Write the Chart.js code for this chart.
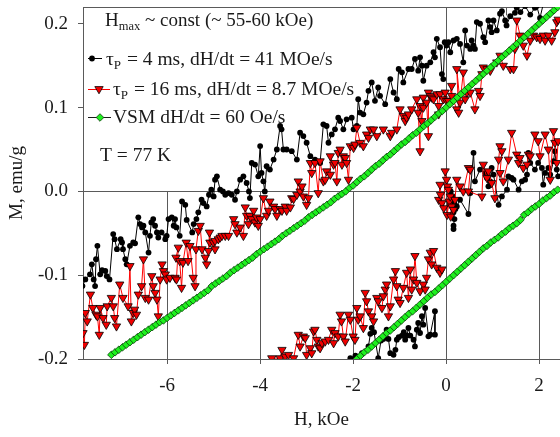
<!DOCTYPE html>
<html>
<head>
<meta charset="utf-8">
<script src="https://cdn.jsdelivr.net/npm/chart.js@4.4.0/dist/chart.umd.min.js"></script>
<style>
  body { margin: 0; background: #fff; }
  #grafica { display: block; }
</style>
</head>
<body>
<canvas id="grafica" width="560" height="437"></canvas>
<script>
// tick labels
const xTicks = [-6, -4, -2, 0, 2];
const yTicks = [-0.2, -0.1, 0.0, 0.1, 0.2];

// VSM, dH/dt = 60 Oe/s - descending branch (upper)
const vsmDescH = [
  -7.20,-7.12,-7.04,-6.96,-6.88,-6.80,-6.72,-6.64,-6.56,-6.48,
  -6.40,-6.32,-6.24,-6.16,-6.08,-6.00,-5.92,-5.84,-5.76,-5.68,
  -5.60,-5.52,-5.44,-5.36,-5.28,-5.20,-5.12,-5.04,-4.96,-4.88,
  -4.80,-4.72,-4.64,-4.56,-4.48,-4.40,-4.32,-4.24,-4.16,-4.08,
  -4.00,-3.92,-3.84,-3.76,-3.68,-3.60,-3.52,-3.44,-3.36,-3.28,
  -3.20,-3.12,-3.04,-2.96,-2.88,-2.80,-2.72,-2.64,-2.56,-2.48,
  -2.40,-2.32,-2.24,-2.16,-2.08,-2.00,-1.92,-1.84,-1.76,-1.68,
  -1.60,-1.52,-1.44,-1.36,-1.28,-1.20,-1.12,-1.04,-0.96,-0.88,
  -0.80,-0.72,-0.64,-0.56,-0.48,-0.40,-0.32,-0.24,-0.16,-0.08,
  0.00,0.08,0.16,0.24,0.32,0.40,0.48,0.56,0.64,0.72,
  0.80,0.88,0.96,1.04,1.12,1.20,1.28,1.36,1.44,1.52,
  1.60,1.68,1.76,1.84,1.92,2.00,2.08,2.16,2.24,2.32,
  2.40
];
const vsmDescM = [
  -0.195,-0.192,-0.189,-0.186,-0.183,-0.180,-0.177,-0.174,-0.171,-0.168,
  -0.165,-0.162,-0.159,-0.156,-0.154,-0.151,-0.148,-0.145,-0.142,-0.139,
  -0.136,-0.133,-0.130,-0.127,-0.124,-0.121,-0.118,-0.113,-0.110,-0.107,
  -0.104,-0.101,-0.097,-0.094,-0.091,-0.088,-0.085,-0.082,-0.079,-0.075,
  -0.072,-0.069,-0.066,-0.063,-0.060,-0.057,-0.053,-0.050,-0.047,-0.044,
  -0.041,-0.038,-0.035,-0.031,-0.028,-0.025,-0.022,-0.019,-0.016,-0.013,
  -0.009,-0.006,-0.003,0.000,0.004,0.007,0.011,0.015,0.018,0.022,
  0.026,0.030,0.033,0.037,0.041,0.044,0.048,0.052,0.056,0.059,
  0.063,0.067,0.070,0.074,0.078,0.081,0.085,0.089,0.093,0.096,
  0.100,0.104,0.108,0.112,0.116,0.120,0.124,0.128,0.132,0.136,
  0.140,0.144,0.148,0.152,0.156,0.160,0.164,0.168,0.172,0.176,
  0.180,0.184,0.188,0.192,0.196,0.200,0.204,0.208,0.212,0.216,
  0.220
];

// VSM - ascending branch (lower)
const vsmAscH = [
  -1.92,-1.84,-1.76,-1.68,-1.60,-1.52,-1.44,-1.36,-1.28,-1.20,
  -1.12,-1.04,-0.96,-0.88,-0.80,-0.72,-0.64,-0.56,-0.48,-0.40,
  -0.32,-0.24,-0.16,-0.08,0.00,0.08,0.16,0.24,0.32,0.40,
  0.48,0.56,0.64,0.72,0.80,0.88,0.96,1.04,1.12,1.20,
  1.28,1.36,1.44,1.52,1.60,1.68,1.76,1.84,1.92,2.00,
  2.08,2.16,2.24,2.32,2.40
];
const vsmAscM = [
  -0.200,-0.196,-0.192,-0.189,-0.185,-0.181,-0.177,-0.173,-0.169,-0.166,
  -0.162,-0.158,-0.154,-0.150,-0.146,-0.143,-0.139,-0.135,-0.131,-0.127,
  -0.123,-0.120,-0.116,-0.112,-0.108,-0.104,-0.100,-0.096,-0.092,-0.088,
  -0.084,-0.080,-0.076,-0.072,-0.068,-0.065,-0.061,-0.058,-0.055,-0.051,
  -0.048,-0.044,-0.041,-0.038,-0.034,-0.028,-0.025,-0.021,-0.018,-0.015,
  -0.011,-0.008,-0.005,-0.001,0.002
];

// tau_P = 4 ms - descending branch
const p4DescH = [
  -7.82,-7.76,-7.66,-7.62,-7.58,-7.55,-7.53,-7.50,-7.44,-7.40,
  -7.33,-7.30,-7.24,-7.16,-7.13,-7.08,-7.00,-6.97,-6.95,-6.90,
  -6.87,-6.80,-6.73,-6.69,-6.62,-6.58,-6.54,-6.51,-6.47,-6.40,
  -6.37,-6.34,-6.30,-6.26,-6.22,-6.19,-6.12,-6.04,-6.01,-5.97,
  -5.90,-5.86,-5.83,-5.80,-5.73,-5.68,-5.61,-5.58,-5.46,-5.43,
  -5.37,-5.33,-5.26,-5.22,-5.15,-5.10,-5.05,-5.00,-4.97,-4.93,
  -4.86,-4.80,-4.75,-4.68,-4.61,-4.54,-4.50,-4.43,-4.36,-4.29,
  -4.24,-4.22,-4.18,-4.11,-4.04,-4.00,-3.97,-3.93,-3.90,-3.86,
  -3.79,-3.71,-3.64,-3.57,-3.54,-3.50,-3.43,-3.32,-3.21,-3.14,
  -3.07,-3.00,-2.92,-2.82,-2.71,-2.64,-2.57,-2.53,-2.46,-2.39,
  -2.32,-2.28,-2.21,-2.14,-2.03,-1.99,-1.92,-1.89,-1.85,-1.78,
  -1.71,-1.67,-1.60,-1.53,-1.46,-1.42,-1.31,-1.20,-1.13,-1.06,
  -1.02,-0.95,-0.92,-0.81,-0.74,-0.67,-0.60,-0.56,-0.52,-0.49,
  -0.42,-0.34,-0.27,-0.24,-0.20,-0.13,-0.09,-0.06,-0.03,0.01,
  0.05,0.09,0.16,0.23,0.30,0.37,0.41,0.45,0.52,0.55,
  0.59,0.62,0.66,0.73,0.80,0.84,0.91,0.95,0.98,1.02,
  1.09,1.16,1.20,1.27,1.30,1.38,1.48,1.52,1.60,1.70,
  1.81,1.91,1.95,2.02,2.10,2.20
];
const p4DescM = [
  -0.113,-0.105,-0.099,-0.087,-0.105,-0.113,-0.081,-0.065,-0.099,-0.094,
  -0.095,-0.101,-0.105,-0.051,-0.057,-0.069,-0.057,-0.061,-0.069,-0.081,
  -0.087,-0.065,-0.061,-0.062,-0.031,-0.039,-0.043,-0.041,-0.049,-0.073,
  -0.053,-0.037,-0.033,-0.041,-0.049,-0.055,-0.049,-0.057,-0.053,-0.033,
  -0.031,-0.041,-0.033,-0.043,-0.053,-0.012,-0.016,-0.034,-0.049,-0.039,
  -0.033,-0.025,-0.010,-0.014,-0.018,-0.004,0.002,-0.006,0.014,0.018,
  0.002,0.000,-0.004,-0.002,-0.004,-0.010,0.000,0.014,0.018,0.010,
  0.000,-0.008,0.034,0.032,0.018,0.054,0.022,0.012,0.000,0.030,
  0.026,0.038,0.050,0.078,0.074,0.050,0.050,0.048,0.038,0.070,
  0.066,0.058,0.042,0.038,0.034,0.080,0.078,0.058,0.068,0.074,
  0.088,0.084,0.074,0.086,0.088,0.074,0.078,0.110,0.094,0.092,
  0.106,0.120,0.130,0.108,0.124,0.114,0.104,0.134,0.118,0.110,
  0.146,0.142,0.130,0.146,0.146,0.158,0.144,0.160,0.150,0.132,
  0.150,0.154,0.166,0.160,0.182,0.172,0.140,0.134,0.178,0.174,
  0.178,0.166,0.180,0.182,0.176,0.154,0.192,0.174,0.170,0.180,
  0.174,0.170,0.202,0.200,0.184,0.178,0.204,0.196,0.190,0.204,
  0.192,0.212,0.215,0.204,0.198,0.209,0.213,0.219,0.214,0.221,
  0.211,0.219,0.221,0.207,0.226,0.232
];

// tau_P = 4 ms - ascending branch, negative field part
const p4AscH = [
  -2.06,-1.95,-1.81,-1.67,-1.63,-1.60,-1.55,-1.46,-1.40,-1.35,
  -1.28,-1.24,-1.20,-1.13,-1.09,-1.06,-1.02,-0.95,-0.91,-0.88,
  -0.84,-0.81,-0.77,-0.70,-0.67,-0.63,-0.60,-0.56,-0.52,-0.49,
  -0.45,-0.38,-0.34,-0.24,-0.24
];
const p4AscM = [
  -0.199,-0.196,-0.193,-0.185,-0.170,-0.163,-0.168,-0.199,-0.178,-0.176,
  -0.165,-0.176,-0.193,-0.195,-0.189,-0.177,-0.174,-0.172,-0.168,-0.177,
  -0.172,-0.163,-0.172,-0.177,-0.185,-0.165,-0.157,-0.169,-0.149,-0.159,
  -0.139,-0.173,-0.171,-0.143,-0.171
];

// tau_P = 4 ms - ascending branch, positive field part
const p4RetH = [
  0.16,0.16,0.18,0.16,0.20,0.18,0.12,0.14,0.10,0.23,
  0.30,0.48,0.52,0.59,0.62,0.73,0.84,0.88,0.91,0.95,
  0.98,1.02,1.13,1.20,1.31,1.34,1.41,1.45,1.56,1.63,
  1.70,1.74,1.77,1.81,1.91,1.98,2.06,2.09,2.13,2.20,
  2.24,2.31,2.34,2.38,2.41
];
const p4RetM = [
  -0.045,-0.041,-0.033,-0.025,-0.021,-0.015,-0.012,-0.006,0.000,-0.018,
  -0.010,-0.027,-0.002,0.046,0.012,0.026,0.022,0.016,0.006,0.012,
  0.028,0.020,-0.016,-0.006,0.002,0.018,0.016,0.014,0.002,0.012,
  0.014,0.020,0.046,0.034,0.026,0.034,0.028,0.008,0.022,0.028,
  0.020,0.036,0.048,0.026,0.018
];

// tau_P = 16 ms - descending branch
const p16DescH = [
  -7.81,-7.78,-7.76,-7.72,-7.65,-7.60,-7.53,-7.50,-7.46,-7.44,
  -7.38,-7.31,-7.29,-7.20,-7.16,-7.13,-7.09,-7.02,-6.95,-6.84,
  -6.80,-6.77,-6.73,-6.70,-6.66,-6.62,-6.55,-6.51,-6.47,-6.40,
  -6.33,-6.30,-6.26,-6.22,-6.19,-6.15,-6.11,-6.08,-6.04,-6.01,
  -5.94,-5.83,-5.80,-5.76,-5.81,-5.73,-5.69,-5.66,-5.59,-5.55,
  -5.51,-5.44,-5.40,-5.38,-5.33,-5.29,-5.25,-5.18,-5.15,-5.11,
  -5.09,-5.08,-5.01,-4.97,-4.97,-4.90,-4.86,-4.82,-4.75,-4.68,
  -4.57,-4.54,-4.50,-4.43,-4.36,-4.32,-4.29,-4.25,-4.22,-4.18,
  -4.14,-4.11,-4.08,-4.04,-4.00,-3.93,-3.86,-3.82,-3.79,-3.71,
  -3.68,-3.64,-3.57,-3.53,-3.46,-3.43,-3.35,-3.32,-3.28,-3.21,
  -3.18,-3.14,-3.10,-3.07,-3.00,-2.96,-2.92,-2.89,-2.82,-2.75,
  -2.71,-2.64,-2.60,-2.57,-2.49,-2.49,-2.42,-2.39,-2.35,-2.32,
  -2.28,-2.24,-2.21,-2.17,-2.14,-2.10,-2.06,-1.99,-1.96,-1.92,
  -1.85,-1.78,-1.71,-1.67,-1.63,-1.56,-1.49,-1.35,-1.20,-1.17,
  -1.06,-0.99,-0.92,-0.88,-0.85,-0.81,-0.74,-0.63,-0.60,-0.56,
  -0.56,-0.52,-0.49,-0.49,-0.42,-0.38,-0.38,-0.34,-0.31,-0.27,
  -0.20,-0.16,-0.16,-0.13,-0.06,-0.02,0.01,0.05,0.12,0.12,
  0.23,0.27,0.23,0.30,0.37,0.41,0.45,0.52,0.62,0.70,
  0.73,0.77,0.80,0.88,0.95,1.09,1.16,1.23,1.38,1.45,
  1.48,1.52,1.59,1.66,1.74,1.81,1.88,1.95,2.02,2.09,
  2.13,2.20,2.27,2.34,2.38,2.41
];
const p16DescM = [
  -0.169,-0.183,-0.145,-0.155,-0.123,-0.139,-0.147,-0.149,-0.171,-0.139,
  -0.151,-0.159,-0.137,-0.127,-0.137,-0.151,-0.161,-0.111,-0.127,-0.137,
  -0.089,-0.155,-0.145,-0.141,-0.147,-0.123,-0.113,-0.081,-0.127,-0.129,
  -0.101,-0.113,-0.121,-0.129,-0.149,-0.105,-0.087,-0.095,-0.099,-0.105,
  -0.103,-0.103,-0.105,-0.067,-0.079,-0.083,-0.115,-0.085,-0.061,-0.083,
  -0.065,-0.103,-0.113,-0.069,-0.047,-0.041,-0.069,-0.079,-0.087,-0.071,
  -0.049,-0.061,-0.061,-0.069,-0.059,-0.057,-0.055,-0.053,-0.053,-0.053,
  -0.033,-0.039,-0.049,-0.043,-0.053,-0.019,-0.029,-0.039,-0.029,-0.033,
  -0.023,-0.037,-0.031,-0.041,-0.033,-0.008,-0.029,-0.023,-0.012,-0.018,
  -0.021,-0.029,-0.021,-0.023,-0.018,-0.023,-0.019,-0.008,-0.009,-0.004,
  0.012,0.000,0.006,-0.006,-0.016,-0.008,0.034,0.022,0.034,-0.002,
  0.036,0.012,0.014,0.024,0.020,0.042,0.032,0.034,0.012,0.046,
  0.050,0.032,0.042,0.040,0.034,0.014,0.054,0.052,0.056,0.076,
  0.058,0.054,0.068,0.064,0.074,0.074,0.066,0.074,0.066,0.070,
  0.074,0.098,0.090,0.084,0.088,0.092,0.098,0.110,0.094,0.048,
  0.102,0.084,0.112,0.100,0.106,0.066,0.118,0.114,0.112,0.110,
  0.116,0.092,0.102,0.116,0.110,0.118,0.108,0.108,0.126,0.114,
  0.098,0.094,0.146,0.106,0.142,0.110,0.118,0.118,0.098,0.120,
  0.114,0.140,0.148,0.146,0.144,0.154,0.162,0.150,0.146,0.146,
  0.170,0.204,0.186,0.174,0.162,0.180,0.186,0.184,0.182,0.186,
  0.180,0.186,0.180,0.190,0.202,0.205
];

// tau_P = 16 ms - ascending branch, negative field part
const p16AscH = [
  -3.75,-3.57,-3.53,-3.46,-3.39,-3.28,-3.18,-3.14,-3.07,-3.03,
  -3.00,-2.92,-2.89,-2.85,-2.82,-2.78,-2.75,-2.71,-2.67,-2.60,
  -2.53,-2.46,-2.42,-2.39,-2.32,-2.28,-2.25,-2.21,-2.17,-2.10,
  -2.06,-2.00,-1.96,-1.92,-1.89,-1.85,-1.78,-1.74,-1.71,-1.67,
  -1.60,-1.56,-1.49,-1.46,-1.38,-1.35,-1.31,-1.28,-1.24,-1.20,
  -1.13,-1.09,-1.06,-1.03,-0.99,-0.92,-0.85,-0.81,-0.77,-0.74,
  -0.70,-0.67,-0.63,-0.56,-0.49,-0.45,-0.42,-0.38,-0.34,-0.31,
  -0.27,-0.20,-0.13,-0.09
];
const p16AscM = [
  -0.199,-0.199,-0.189,-0.197,-0.195,-0.199,-0.171,-0.185,-0.173,-0.175,
  -0.195,-0.187,-0.193,-0.167,-0.165,-0.177,-0.185,-0.187,-0.181,-0.179,
  -0.177,-0.165,-0.181,-0.169,-0.173,-0.147,-0.155,-0.173,-0.179,-0.147,
  -0.153,-0.173,-0.177,-0.139,-0.153,-0.149,-0.163,-0.121,-0.131,-0.143,
  -0.149,-0.155,-0.127,-0.131,-0.139,-0.125,-0.117,-0.111,-0.149,-0.137,
  -0.105,-0.095,-0.113,-0.129,-0.133,-0.115,-0.097,-0.127,-0.093,-0.117,
  -0.105,-0.077,-0.109,-0.119,-0.111,-0.117,-0.103,-0.081,-0.073,-0.087,
  -0.071,-0.091,-0.097,-0.093
];

// tau_P = 16 ms - ascending branch, positive field part
const p16RetH = [
  -0.16,-0.13,-0.09,-0.12,-0.05,-0.02,0.01,0.03,0.05,0.02,
  0.07,0.09,0.12,0.10,0.16,0.19,0.23,0.30,0.37,0.48,
  0.52,0.48,0.77,0.80,0.88,0.91,0.98,1.05,1.13,1.16,
  1.20,1.16,1.23,1.34,1.41,1.52,1.56,1.59,1.66,1.74,
  1.77,1.81,1.91,1.98,2.02,2.13,2.20,2.24,2.31,2.34,
  2.38,2.41
];
const p16RetM = [
  -0.010,0.008,-0.014,-0.004,-0.020,0.024,0.014,0.006,0.002,-0.028,
  -0.012,-0.006,-0.018,-0.030,-0.022,-0.010,0.014,0.006,0.000,0.028,
  0.026,0.000,-0.006,0.032,0.016,0.024,0.010,-0.008,0.038,0.054,
  0.048,0.022,0.012,0.038,0.070,0.044,0.034,0.040,0.028,0.032,
  0.044,0.042,0.068,0.060,0.042,0.068,0.050,0.014,0.072,0.058,
  0.034,0.060
];

// single family name: a fallback list made the canvas drop to sans-serif
const FONT = "'Liberation Serif'";
const TEXT = '#1a1a1a';
const AXIS = '#5a5a5a';

function puntos(hs, ms) {
    return hs.map((h, i) => ({ x: h, y: ms[i] }));
}

function serie(hs, ms, estilo) {
    return Object.assign({
        data: puntos(hs, ms),
        showLine: true,
        borderWidth: 1,
        tension: 0
    }, estilo);
}

const estiloVsm = {
    borderColor: '#1a1a1a',
    pointStyle: 'rectRot',
    pointRadius: 3.8,
    pointBackgroundColor: '#1ef01e',
    pointBorderColor: '#0b3b0b',
    pointBorderWidth: 0.8
};
const estilo16 = {
    borderColor: '#ff0000',
    pointStyle: 'triangle',
    pointRotation: 180,
    pointRadius: 4.8,
    pointBackgroundColor: '#f00000',
    pointBorderColor: '#000',
    pointBorderWidth: 0.8
};
const estilo4 = {
    borderColor: '#000',
    pointStyle: 'circle',
    pointRadius: 2.9,
    pointBackgroundColor: '#000',
    pointBorderColor: '#000',
    pointBorderWidth: 0
};

// small marker shapes for the legend
function marcador(ctx, tipo, x, y) {
    ctx.beginPath();
    if (tipo === 'circle') {
        ctx.arc(x, y, 2.9, 0, Math.PI * 2);
        ctx.fillStyle = '#000';
        ctx.fill();
        return;
    }
    if (tipo === 'triangle') {
        ctx.moveTo(x - 4.2, y - 2.4);
        ctx.lineTo(x + 4.2, y - 2.4);
        ctx.lineTo(x, y + 4.8);
        ctx.fillStyle = '#f00000';
        ctx.strokeStyle = '#000';
    } else {
        ctx.moveTo(x, y - 3.8);
        ctx.lineTo(x + 3.8, y);
        ctx.lineTo(x, y + 3.8);
        ctx.lineTo(x - 3.8, y);
        ctx.fillStyle = '#1ef01e';
        ctx.strokeStyle = '#0b3b0b';
    }
    ctx.closePath();
    ctx.fill();
    ctx.lineWidth = 0.8;
    ctx.stroke();
}

function textoTau(ctx, x, y, resto) {
    ctx.font = '19.5px ' + FONT;
    ctx.fillText('\u03C4', x, y);
    x += ctx.measureText('\u03C4').width;
    ctx.font = '13px ' + FONT;
    ctx.fillText('P', x, y + 4);
    x += ctx.measureText('P').width + 1;
    ctx.font = '19.5px ' + FONT;
    ctx.fillText(resto, x, y);
}

// frame, zero lines and the partial vertical grid
const marco = {
    id: 'marco',
    beforeDatasetsDraw(chart) {
        const { ctx, chartArea: a, scales: { x, y } } = chart;
        const y0 = Math.round(y.getPixelForValue(0)) + 0.5;
        ctx.save();
        ctx.strokeStyle = AXIS;
        ctx.lineWidth = 1;
        ctx.beginPath();
        ctx.moveTo(a.left, a.top + 0.5);
        ctx.lineTo(a.right, a.top + 0.5);
        ctx.moveTo(a.left, y0);
        ctx.lineTo(a.right, y0);
        xTicks.forEach(function (v) {
            const px = Math.round(x.getPixelForValue(v)) + 0.5;
            ctx.moveTo(px, v === 0 ? a.top : y0);
            ctx.lineTo(px, a.bottom);
        });
        // short stub near the top edge
        const ps = Math.round(x.getPixelForValue(1.28)) + 0.5;
        ctx.moveTo(ps, a.top);
        ctx.lineTo(ps, y.getPixelForValue(0.21));
        ctx.stroke();
        ctx.restore();
    },
    afterDatasetsDraw(chart) {
        const ctx = chart.ctx;
        ctx.save();
        ctx.fillStyle = TEXT;
        ctx.textBaseline = 'alphabetic';

        // header
        let x = 105;
        ctx.font = '19px ' + FONT;
        ctx.fillText('H', x, 26);
        x += ctx.measureText('H').width;
        ctx.font = '12.5px ' + FONT;
        ctx.fillText('max', x, 30);
        x += ctx.measureText('max').width;
        ctx.font = '19px ' + FONT;
        ctx.fillText(' ~ const (~ 55-60 kOe)', x, 26);

        // legend samples
        ctx.strokeStyle = '#000';
        ctx.lineWidth = 1;
        ctx.beginPath();
        ctx.moveTo(88, 58.5); ctx.lineTo(102, 58.5);
        ctx.stroke();
        marcador(ctx, 'circle', 92, 58.5);

        ctx.strokeStyle = '#ff0000';
        ctx.lineWidth = 1;
        ctx.beginPath();
        ctx.moveTo(88, 89.5); ctx.lineTo(110, 89.5);
        ctx.stroke();
        marcador(ctx, 'triangle', 99, 89);

        ctx.strokeStyle = '#1a1a1a';
        ctx.lineWidth = 1;
        ctx.beginPath();
        ctx.moveTo(88, 117.5); ctx.lineTo(111, 117.5);
        ctx.stroke();
        marcador(ctx, 'diamond', 100, 117.5);

        ctx.fillStyle = TEXT;
        textoTau(ctx, 106, 65, ' = 4 ms, dH/dt = 41 MOe/s');
        ctx.fillStyle = TEXT;
        textoTau(ctx, 113, 95, ' = 16 ms, dH/dt = 8.7 MOe/s');
        ctx.fillStyle = TEXT;
        ctx.font = '19.5px ' + FONT;
        ctx.fillText('VSM dH/dt = 60 Oe/s', 113, 123);
        ctx.fillText('T = 77 K', 100, 161);
        ctx.restore();
    }
};

Chart.defaults.font.family = FONT;
Chart.defaults.font.size = 19;
Chart.defaults.color = TEXT;

new Chart(document.getElementById('grafica').getContext('2d'), {
    type: 'scatter',
    data: {
        datasets: [
            serie(vsmDescH, vsmDescM, estiloVsm),
            serie(vsmAscH, vsmAscM, estiloVsm),
            serie(p16DescH, p16DescM, estilo16),
            serie(p16AscH, p16AscM, estilo16),
            serie(p16RetH, p16RetM, estilo16),
            serie(p4DescH, p4DescM, estilo4),
            serie(p4AscH, p4AscM, estilo4),
            serie(p4RetH, p4RetM, estilo4)
        ]
    },
    options: {
        responsive: false,
        animation: false,
        devicePixelRatio: 1,
        layout: { autoPadding: false, padding: { top: 7, left: 0, right: 0, bottom: 0 } },
        plugins: {
            legend: { display: false },
            tooltip: { enabled: false }
        },
        scales: {
            x: {
                type: 'linear',
                min: -7.81,
                max: 2.45,
                afterBuildTicks: function (scale) {
                    scale.ticks = xTicks.map(v => ({ value: v }));
                },
                afterFit: function (scale) {
                    scale.height = 78;
                    scale.paddingLeft = 0;
                    scale.paddingRight = 0;
                },
                ticks: {
                    padding: 11,
                    maxRotation: 0,
                    callback: v => String(v)
                },
                grid: { drawOnChartArea: false, drawTicks: true, tickLength: 5, color: AXIS },
                border: { display: true, color: AXIS, width: 1 },
                title: { display: true, text: 'H, kOe', padding: { top: 0, bottom: 6 } }
            },
            y: {
                type: 'linear',
                min: -0.2,
                max: 0.22,
                afterBuildTicks: function (scale) {
                    scale.ticks = yTicks.map(v => ({ value: v }));
                },
                afterFit: function (scale) {
                    scale.width = 83;
                    scale.paddingTop = 0;
                    scale.paddingBottom = 0;
                },
                ticks: {
                    padding: 10,
                    callback: v => v.toFixed(1)
                },
                grid: { drawOnChartArea: false, drawTicks: true, tickLength: 5, color: AXIS },
                border: { display: true, color: AXIS, width: 1 },
                title: { display: true, text: 'M, emu/g', padding: { top: 6, bottom: 0 } }
            }
        }
    },
    plugins: [marco]
});
</script>
</body>
</html>
